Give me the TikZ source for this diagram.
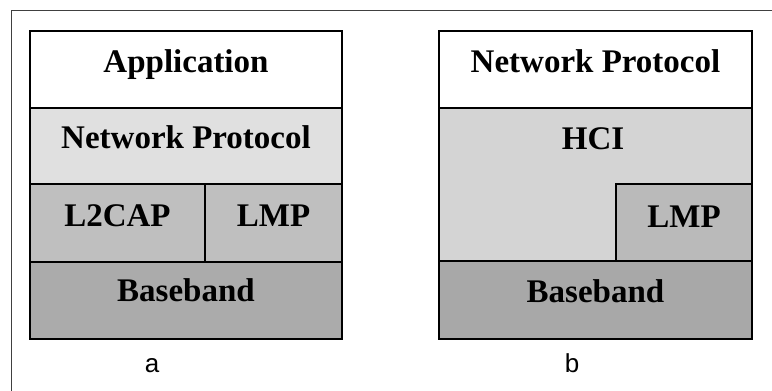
\documentclass[tikz,border=0pt]{standalone}
\usepackage{fontspec}
\setmainfont{Liberation Serif}
\newfontfamily\labelfont{Liberation Sans}
\begin{document}
\begin{tikzpicture}[x=1pt,y=-1pt,
  layer/.style={draw=black,line width=1.3pt},
  lbl/.style={font=\fontsize{33}{33}\selectfont\bfseries,anchor=base,inner sep=0pt},
  sublabel/.style={font=\labelfont\fontsize{26}{26}\selectfont,anchor=base,inner sep=0pt}]
\useasboundingbox (0,0) rectangle (772,391);
% frame
\draw[line width=1pt,black!75] (11,391) -- (11,10) -- (772,10);
% stack a
\filldraw[layer,fill=white] (30,31) rectangle (342,108);
\filldraw[layer,fill=black!12] (30,108) rectangle (342,184);
\filldraw[layer,fill=black!25] (30,184) rectangle (205,262);
\filldraw[layer,fill=black!25] (205,184) rectangle (342,262);
\filldraw[layer,fill=black!33] (30,262) rectangle (342,339);
\node[lbl] (appA) at (186,72) {Application};
\node[lbl] (netA) at (186,148) {Network Protocol};
\node[lbl] (l2cap) at (117.5,226) {L2CAP};
\node[lbl] (lmpA) at (273.5,226) {LMP};
\node[lbl] (bbA) at (186,301) {Baseband};
\node[sublabel] (a) at (152,372) {a};
% stack b
\filldraw[layer,fill=white] (439,31) rectangle (752,108);
\filldraw[layer,fill=black!17] (439,108) rectangle (752,261);
\filldraw[layer,fill=black!27] (616,184) rectangle (752,261);
\filldraw[layer,fill=black!34] (439,261) rectangle (752,339);
\node[lbl] (netB) at (595.5,72) {Network Protocol};
\node[lbl] (hci) at (593,149) {HCI};
\node[lbl] (lmpB) at (684,227) {LMP};
\node[lbl] (bbB) at (595.5,302) {Baseband};
\node[sublabel] (b) at (572,372) {b};
\end{tikzpicture}
\end{document}
